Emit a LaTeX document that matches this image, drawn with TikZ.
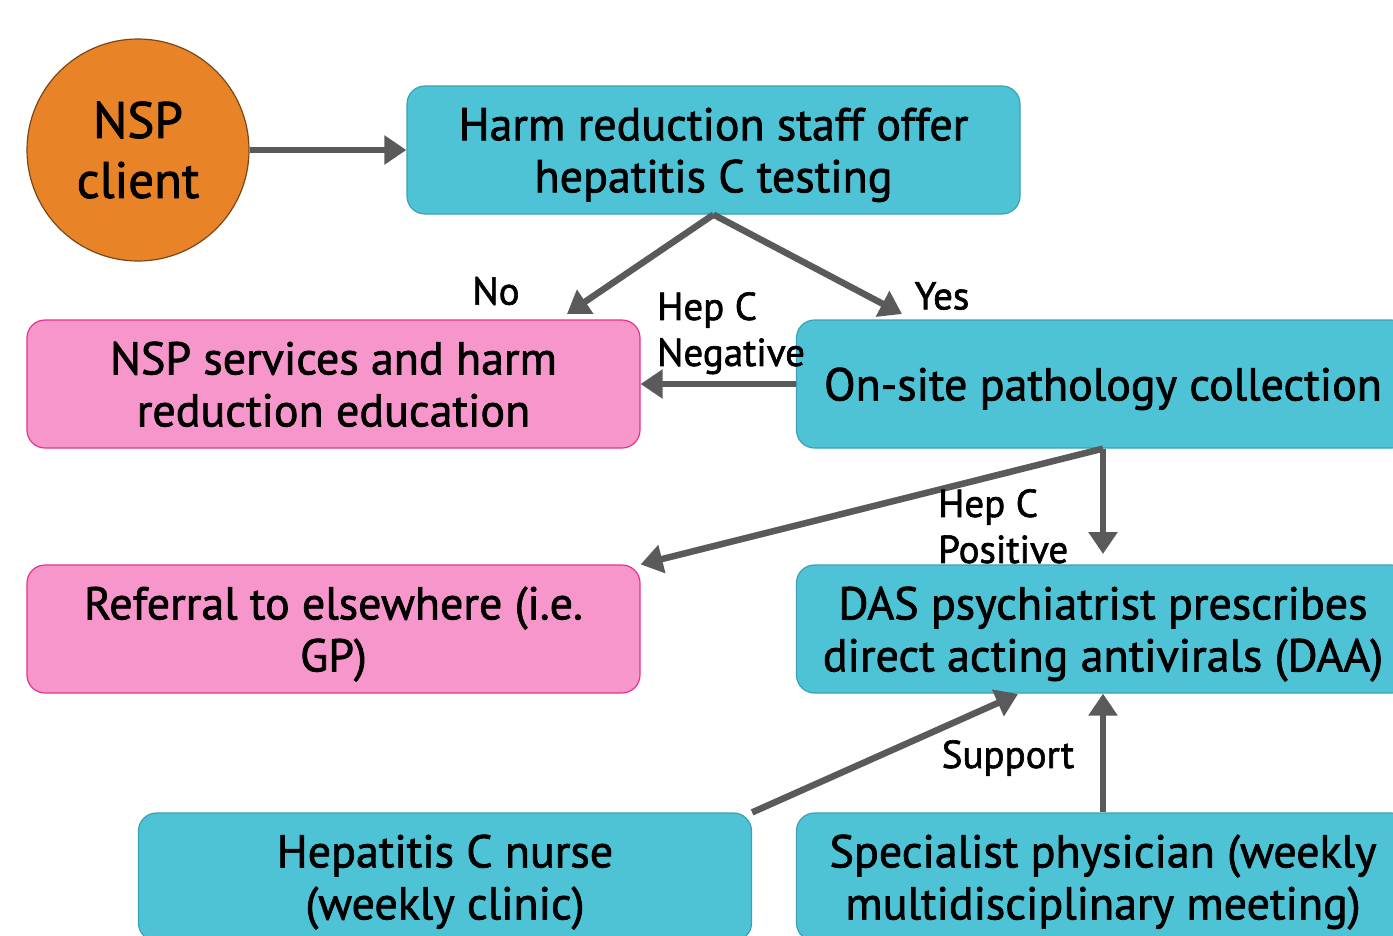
\documentclass[tikz,border=0pt]{standalone}
\usepackage{fontspec}
\setmainfont{PT Sans}[RawFeature={embolden=1.6}]
\usetikzlibrary{arrows.meta}
\definecolor{cyanfill}{HTML}{4EC3D6}
\definecolor{cyanedge}{HTML}{3AA2B4}
\definecolor{pinkfill}{HTML}{F796CA}
\definecolor{pinkedge}{HTML}{E5338B}
\definecolor{orangefill}{HTML}{E88327}
\definecolor{orangeedge}{HTML}{7A4718}
\definecolor{arrowgray}{HTML}{5A5A5A}
\begin{document}
\begin{tikzpicture}[x=1pt,y=-1pt,
  box/.style={rounded corners=18pt, line width=1.2pt, minimum width=613pt,
    minimum height=128pt, align=center, inner sep=0pt, text depth=0pt,
    font=\fontsize{46}{52}\selectfont},
  bluebox/.style={box, fill=cyanfill, draw=cyanedge},
  pinkbox/.style={box, fill=pinkfill, draw=pinkedge},
  flow/.style={draw=arrowgray, line width=6.5pt,
    -{Triangle[length=22pt,width=28pt]}},
  lbl/.style={font=\fontsize{39}{46}\selectfont, inner sep=0pt}
]
\useasboundingbox (0,0) rectangle (1393,935);
\clip (0,0) rectangle (1393,935);

% client and process boxes
\node[circle, fill=orangefill, draw=orangeedge, line width=1.2pt,
  minimum size=222pt, inner sep=0pt, align=center,
  font=\fontsize{51}{60}\selectfont] (client) at (138,150) {NSP\\client};
\node[bluebox] (offer) at (713.5,150) {Harm reduction staff offer\\hepatitis C testing};
\node[pinkbox] (nsp) at (333.5,384) {NSP services and harm\\reduction education};
\node[bluebox] (onsite) at (1103,384) {On-site pathology collection};
\node[pinkbox] (ref) at (333.5,629) {Referral to elsewhere (i.e.\\GP)};
\node[bluebox] (das) at (1103,629) {DAS psychiatrist prescribes\\direct acting antivirals (DAA)};
\node[bluebox] (nurse) at (445,877) {Hepatitis C nurse\\(weekly clinic)};
\node[bluebox] (spec) at (1103,877) {Specialist physician (weekly\\multidisciplinary meeting)};

% free arrow ends
\coordinate (noTip) at (567,314);
\coordinate (yesTip) at (902,314);
\coordinate (posTip) at (1103,554);
\coordinate (nurseTip) at (1018,694);

% connectors
\draw[flow] (client.east) -- (offer.west);
\draw[flow] (offer.south) -- (noTip);
\draw[flow] (offer.south) -- (yesTip);
\draw[flow] (onsite.west) -- (nsp.east);
\draw[flow] (onsite.south) -- (ref.north east);
\draw[flow] (onsite.south) -- (posTip);
\draw[flow] (nurse.north east) -- (nurseTip);
\draw[flow] (spec.north) -- (das.south);

% connector labels
\node[lbl] (no) at (496,291) {No};
\node[lbl] (yes) at (942,296) {Yes};
\node[lbl, align=left, anchor=north west] (neg) at (657,292) {Hep C\\Negative};
\node[lbl, align=left, anchor=north west] (pos) at (938,489) {Hep C\\Positive};
\node[lbl] (sup) at (1008,758) {Support};
\end{tikzpicture}
\end{document}
